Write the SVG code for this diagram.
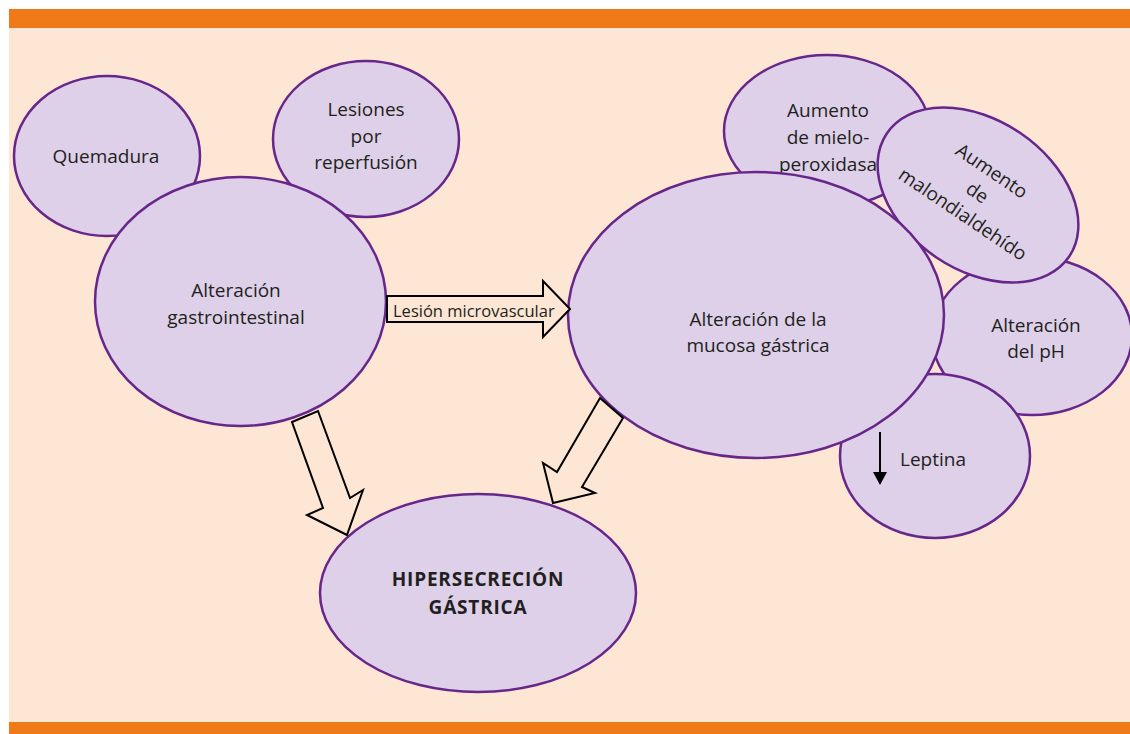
<svg xmlns="http://www.w3.org/2000/svg" width="1130" height="734" viewBox="0 0 1130 734">
<style>
.node ellipse{fill:#DDD0E8;stroke:#68268A;stroke-width:2.5}
.t{font-family:"Open Sans","Liberation Sans",sans-serif;font-size:19px;fill:#231F20;text-anchor:middle}
.b{font-weight:bold;font-size:19px;letter-spacing:0.8px}
.arr{fill:#FDE6D4;stroke:#000;stroke-width:2;stroke-linejoin:miter}
</style>
<rect x="0" y="0" width="1130" height="734" fill="#FFFFFF"/>
<rect x="9" y="28" width="1121" height="694" fill="#FDE6D4"/>
<rect x="9" y="9" width="1121" height="19" fill="#F07A17"/>
<rect x="9" y="722" width="1121" height="12" fill="#F07A17"/>

<g id="quemadura" class="node">
<ellipse cx="107" cy="156" rx="93" ry="80"/>
<text class="t" x="106" y="163">Quemadura</text>
</g>
<g id="lesiones" class="node">
<ellipse cx="366" cy="139" rx="93" ry="78"/>
<text class="t" x="366" y="116">Lesiones</text>
<text class="t" x="366" y="143">por</text>
<text class="t" x="366" y="169">reperfusión</text>
</g>
<g id="gastro" class="node">
<ellipse cx="240.5" cy="301.5" rx="145.5" ry="124.5"/>
<text class="t" x="236" y="297">Alteración</text>
<text class="t" x="236" y="324">gastrointestinal</text>
</g>
<g id="mielo" class="node">
<ellipse cx="827" cy="131" rx="103" ry="76"/>
<text class="t" x="828" y="117">Aumento</text>
<text class="t" x="828" y="144">de mielo-</text>
<text class="t" x="828" y="171">peroxidasa</text>
</g>
<g id="ph" class="node">
<ellipse cx="1032" cy="336" rx="100" ry="79"/>
<text class="t" x="1036" y="332">Alteración</text>
<text class="t" x="1036" y="358">del pH</text>
</g>
<g id="leptina" class="node">
<ellipse cx="935" cy="456" rx="95" ry="82"/>
<line x1="880" y1="432" x2="880" y2="474" stroke="#000" stroke-width="2"/>
<polygon points="873,472 887,472 880,485" fill="#000"/>
<text class="t" x="900" y="466" style="text-anchor:start">Leptina</text>
</g>
<g id="malon" class="node">
<ellipse cx="0" cy="0" rx="110" ry="75" transform="translate(978,195) rotate(34)"/>
<g transform="translate(977,193) rotate(34)">
<text class="t" x="0" y="-20">Aumento</text>
<text class="t" x="0" y="6">de</text>
<text class="t" x="0" y="32">malondialdehído</text>
</g>
</g>
<g id="mucosa" class="node">
<ellipse cx="756" cy="315" rx="188" ry="143"/>
<text class="t" x="758" y="326">Alteración de la</text>
<text class="t" x="758" y="352">mucosa gástrica</text>
</g>
<g id="hiper" class="node">
<ellipse cx="478" cy="593" rx="158" ry="99"/>
<text class="t b" x="478" y="586">HIPERSECRECIÓN</text>
<text class="t b" x="478" y="614">GÁSTRICA</text>
</g>

<g id="connectors">
<polygon class="arr" points="387,296 543,296 543,281 570,309 543,337 543,322 387,322"/>
<text class="t" x="393" y="317" style="text-anchor:start;font-size:16.5px">Lesión microvascular</text>
<polygon class="arr" points="292,422 318,411 350,498 363,490 347,535 307,515 323,508"/>
<polygon class="arr" points="600,398 623,418 582,487 595,493 553,503 543,463 557,472"/>
</g>
</svg>
